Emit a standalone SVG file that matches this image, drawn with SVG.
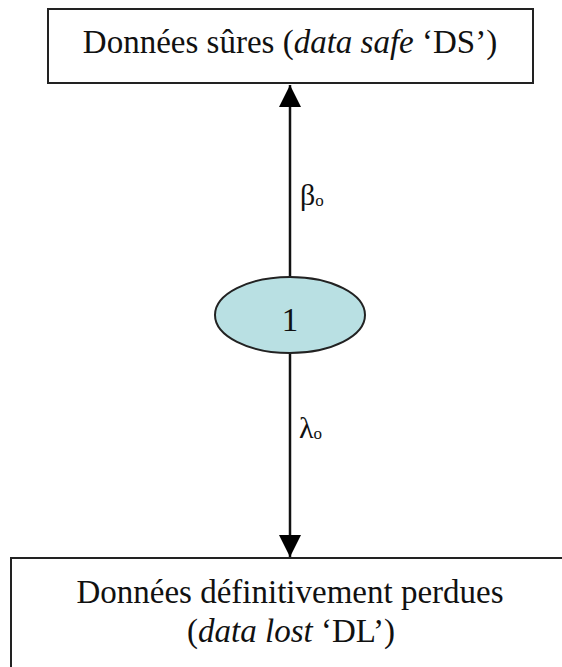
<svg xmlns="http://www.w3.org/2000/svg" width="562" height="667" viewBox="0 0 562 667">
<style>
.box{fill:#fff;stroke:#222;stroke-width:2}
.t{font-size:33px;fill:#111;text-anchor:middle}
.lbl{font-size:30px;fill:#111}
.sub{font-size:17px}
.edge{stroke:#111;stroke-width:2.5;fill:none}
</style>
<defs>
<marker id="ah" viewBox="0 0 22 22" refX="22" refY="11" markerWidth="22" markerHeight="22" markerUnits="userSpaceOnUse" orient="auto">
<path d="M0,0 L22,11 L0,22 z" fill="#000"/>
</marker>
</defs>
<rect width="562" height="667" fill="#fff"/>
<g id="connectors" font-family="'Liberation Serif', 'DejaVu Serif', serif">
<line class="edge" x1="290" y1="277" x2="290" y2="85" marker-end="url(#ah)"/>
<line class="edge" x1="290" y1="353" x2="290" y2="557" marker-end="url(#ah)"/>
<text class="lbl" x="300" y="205">β<tspan class="sub" dy="1">o</tspan></text>
<text class="lbl" x="299" y="438">λ<tspan class="sub" dy="1">o</tspan></text>
</g>
<g id="ds" font-family="'Liberation Serif', 'DejaVu Serif', serif">
<rect class="box" x="48" y="9" width="485" height="74"/>
<text class="t" x="290" y="53">Données sûres (<tspan font-style="italic">data safe</tspan> ‘DS’)</text>
</g>
<g id="state1" font-family="'Liberation Serif', 'DejaVu Serif', serif">
<ellipse cx="290" cy="315" rx="75" ry="38" fill="#b9e0e3" stroke="#222" stroke-width="2"/>
<text class="t" x="290" y="331">1</text>
</g>
<g id="dl" font-family="'Liberation Serif', 'DejaVu Serif', serif">
<rect class="box" x="11" y="558" width="560" height="120"/>
<text class="t" x="290" y="603">Données définitivement perdues</text>
<text class="t" x="291" y="642">(<tspan font-style="italic">data lost</tspan> ‘DL’)</text>
</g>
</svg>
